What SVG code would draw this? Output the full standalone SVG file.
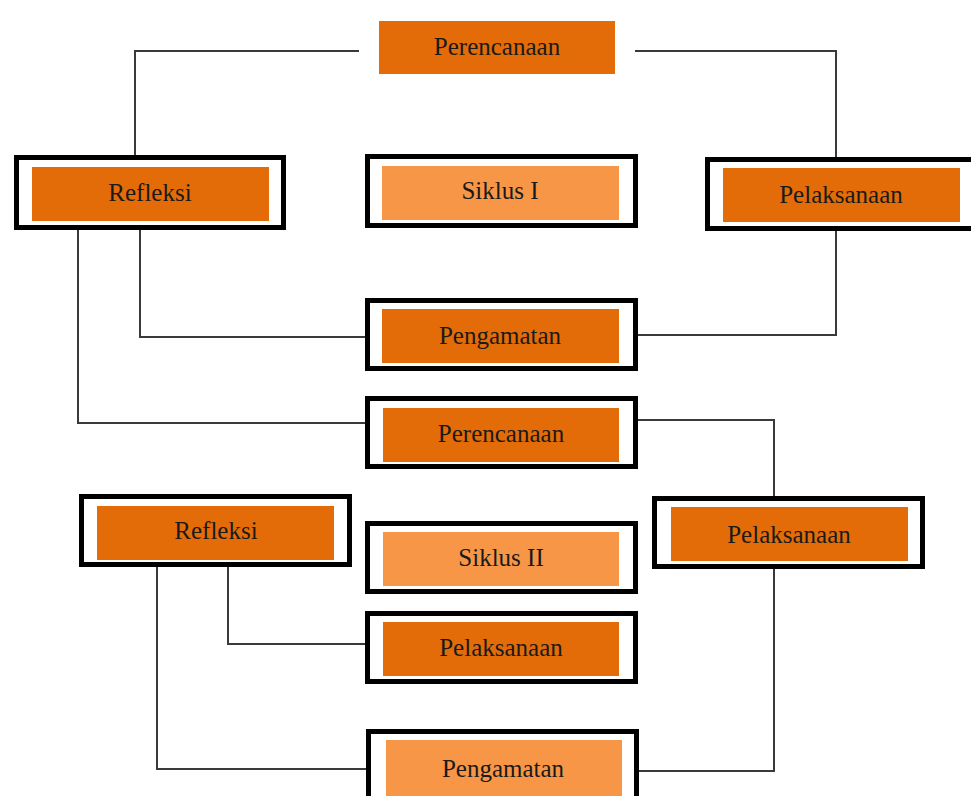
<svg xmlns="http://www.w3.org/2000/svg" width="971" height="796" viewBox="0 0 971 796">
<style>
.frame{fill:#fff;stroke:#000;stroke-width:5}
.dark{fill:#E36C09}
.light{fill:#F79646}
.lbl{font-family:"Liberation Serif","Times New Roman",serif;font-size:25px;fill:#1a1a1a;text-anchor:middle;dominant-baseline:central}
.con{fill:none;stroke:#3a3a3a;stroke-width:2}
</style>
<rect width="971" height="796" fill="#fff"/>
<g id="connectors">
<polyline class="con" points="359,51 135,51 135,156"/>
<polyline class="con" points="635,51 836,51 836,158"/>
<polyline class="con" points="78,229 78,423 366,423"/>
<polyline class="con" points="140,229 140,337 366,337"/>
<polyline class="con" points="836,231 836,335 637,335"/>
<polyline class="con" points="638,420 774,420 774,497"/>
<polyline class="con" points="157,567 157,769 367,769"/>
<polyline class="con" points="228,567 228,644 366,644"/>
<polyline class="con" points="774,569 774,771 638,771"/>
</g>
<g id="perencanaan1">
<rect class="dark" x="379" y="21" width="236" height="53"/>
<text class="lbl" x="497" y="46">Perencanaan</text>
</g>
<g id="refleksi1">
<rect class="frame" x="16.5" y="157.5" width="267" height="70"/>
<rect class="dark" x="32" y="167" width="237" height="54"/>
<text class="lbl" x="150" y="192">Refleksi</text>
</g>
<g id="siklus1">
<rect class="frame" x="367.5" y="156.5" width="268" height="69"/>
<rect class="light" x="382" y="166" width="237" height="54"/>
<text class="lbl" x="500" y="190">Siklus I</text>
</g>
<g id="pelaksanaan1">
<rect class="frame" x="707.5" y="159.5" width="270" height="69"/>
<rect class="dark" x="723" y="168" width="237" height="54"/>
<text class="lbl" x="841" y="194">Pelaksanaan</text>
</g>
<g id="pengamatan1">
<rect class="frame" x="367.5" y="300.5" width="268" height="68"/>
<rect class="dark" x="382" y="309" width="237" height="54"/>
<text class="lbl" x="500" y="335">Pengamatan</text>
</g>
<g id="perencanaan2">
<rect class="frame" x="367.5" y="398.5" width="268" height="68"/>
<rect class="dark" x="383" y="408" width="236" height="54"/>
<text class="lbl" x="501" y="433">Perencanaan</text>
</g>
<g id="refleksi2">
<rect class="frame" x="81.5" y="496.5" width="268" height="68"/>
<rect class="dark" x="97" y="506" width="237" height="54"/>
<text class="lbl" x="216" y="530">Refleksi</text>
</g>
<g id="siklus2">
<rect class="frame" x="367.5" y="523.5" width="268" height="68"/>
<rect class="light" x="383" y="532" width="236" height="54"/>
<text class="lbl" x="501" y="557">Siklus II</text>
</g>
<g id="pelaksanaan2kanan">
<rect class="frame" x="654.5" y="498.5" width="268" height="68"/>
<rect class="dark" x="671" y="507" width="237" height="54"/>
<text class="lbl" x="789" y="534">Pelaksanaan</text>
</g>
<g id="pelaksanaan2tengah">
<rect class="frame" x="367.5" y="613.5" width="268" height="68"/>
<rect class="dark" x="383" y="622" width="236" height="54"/>
<text class="lbl" x="501" y="647">Pelaksanaan</text>
</g>
<g id="pengamatan2">
<rect class="frame" x="368.5" y="731.5" width="268" height="80"/>
<rect class="light" x="386" y="740" width="236" height="60"/>
<text class="lbl" x="503" y="768">Pengamatan</text>
</g>
</svg>
